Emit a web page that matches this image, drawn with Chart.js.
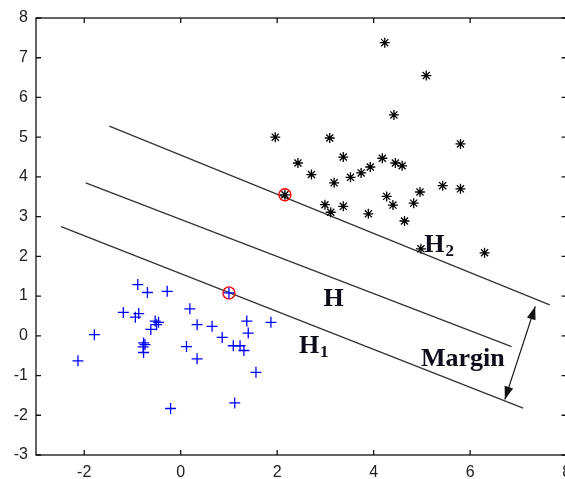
<!DOCTYPE html>
<html lang="en">
<head>
    <meta charset="UTF-8">
    <title>SVM Margin</title>
    <style>
        body {
            margin: 0;
            overflow: hidden;
            background-color: #fff;
        }
        canvas {
            display: block;
        }
    </style>
</head>
<body>
    <!-- wider than the window: the right box edge sits just past the photo edge -->
    <canvas id="svmChart" width="574" height="479"></canvas>

    <script src="https://cdn.jsdelivr.net/npm/chart.js"></script>
    <script>
        // Tick labels
        const xTicks = [-2, 0, 2, 4, 6, 8];
        const yTicks = [-3, -2, -1, 0, 1, 2, 3, 4, 5, 6, 7, 8];

        // Class 1 (blue +)
        const blueX = [-0.89, -0.69, -0.28, 1.00, -1.19, -0.94, -0.87, -0.53, -0.46, -0.62, -0.50, 0.19, 0.34, 0.65, 0.86, 1.37,
                       1.40, 1.87, -1.79, -2.13, -0.77, -0.74, -0.78, -0.77, 0.12, 0.34, 1.09, 1.23, 1.31, 1.56, -0.21, 1.12];
        const blueY = [1.29, 1.09, 1.12, 1.08, 0.59, 0.47, 0.56, 0.37, 0.34, 0.16, 0.28, 0.68, 0.28, 0.24, -0.04, 0.37,
                       0.07, 0.34, 0.03, -0.63, -0.18, -0.22, -0.28, -0.42, -0.27, -0.58, -0.25, -0.25, -0.37, -0.92, -1.83, -1.69];

        // Class 2 (black *)
        const blackX = [4.23, 5.09, 4.42, 1.96, 3.09, 5.80, 2.43, 3.37, 2.71, 3.52, 3.74, 3.93, 4.18, 4.45, 4.59,
                        3.18, 2.16, 2.99, 3.11, 3.37, 3.89, 4.27, 4.40, 4.64, 4.83, 4.96, 5.43, 5.80, 4.98, 6.30];
        const blackY = [7.38, 6.55, 5.56, 5.00, 4.98, 4.83, 4.35, 4.50, 4.06, 3.99, 4.10, 4.25, 4.47, 4.35, 4.28,
                        3.85, 3.55, 3.30, 3.11, 3.26, 3.07, 3.51, 3.29, 2.89, 3.34, 3.62, 3.78, 3.70, 2.19, 2.09];

        // Support vectors (red circles)
        const svX = [1.00, 2.16];
        const svY = [1.08, 3.55];

        // Hyperplanes: [x0, y0, x1, y1]
        const lineH2 = [-1.48, 5.28, 7.65, 0.78];
        const lineH = [-1.97, 3.85, 6.86, -0.27];
        const lineH1 = [-2.48, 2.75, 7.10, -1.82];

        // Margin arrow ends
        const arrowEnds = [7.35, 0.74, 6.72, -1.60];

        // Annotations: text, subscript, x, y (baseline left)
        const labelText = ['H', 'H', 'H', 'Margin'];
        const labelSub = ['2', '', '1', ''];
        const labelX = [5.05, 2.96, 2.45, 4.98];
        const labelY = [2.12, 0.74, -0.43, -0.77];

        function zipXY(xs, ys) {
            return xs.map((x, i) => ({ x: x, y: ys[i] }));
        }

        function segment(l) {
            return [{ x: l[0], y: l[1] }, { x: l[2], y: l[3] }];
        }

        function lineSet(l) {
            return {
                type: 'line',
                data: segment(l),
                borderColor: '#333',
                borderWidth: 1.3,
                pointRadius: 0,
                fill: false,
                order: 5
            };
        }

        // Box with inward ticks, MATLAB style
        const boxPlugin = {
            id: 'boxPlugin',
            afterDatasetsDraw(chart) {
                const c = chart.ctx;
                const a = chart.chartArea;
                const xs = chart.scales.x;
                const ys = chart.scales.y;
                const len = 5;
                c.save();
                c.strokeStyle = '#111';
                c.lineWidth = 1.3;
                c.strokeRect(a.left, a.top, a.right - a.left, a.bottom - a.top);
                c.beginPath();
                xTicks.forEach(v => {
                    const px = xs.getPixelForValue(v);
                    c.moveTo(px, a.bottom); c.lineTo(px, a.bottom - len);
                    c.moveTo(px, a.top); c.lineTo(px, a.top + len);
                });
                yTicks.forEach(v => {
                    const py = ys.getPixelForValue(v);
                    c.moveTo(a.left, py); c.lineTo(a.left + len, py);
                    c.moveTo(a.right, py); c.lineTo(a.right - len, py);
                });
                c.stroke();
                c.restore();
            }
        };

        // Margin arrow and text labels
        const annoPlugin = {
            id: 'annoPlugin',
            afterDatasetsDraw(chart) {
                const c = chart.ctx;
                const xs = chart.scales.x;
                const ys = chart.scales.y;
                c.save();

                const x0 = xs.getPixelForValue(arrowEnds[0]);
                const y0 = ys.getPixelForValue(arrowEnds[1]);
                const x1 = xs.getPixelForValue(arrowEnds[2]);
                const y1 = ys.getPixelForValue(arrowEnds[3]);
                c.strokeStyle = '#111';
                c.fillStyle = '#111';
                c.lineWidth = 1.2;
                c.beginPath();
                c.moveTo(x0, y0);
                c.lineTo(x1, y1);
                c.stroke();

                function head(tx, ty, fx, fy) {
                    const ang = Math.atan2(ty - fy, tx - fx);
                    const hl = 13, hw = 4.5;
                    const bx = tx - hl * Math.cos(ang);
                    const by = ty - hl * Math.sin(ang);
                    c.beginPath();
                    c.moveTo(tx, ty);
                    c.lineTo(bx + hw * Math.sin(ang), by - hw * Math.cos(ang));
                    c.lineTo(bx - hw * Math.sin(ang), by + hw * Math.cos(ang));
                    c.closePath();
                    c.fill();
                }
                head(x0, y0, x1, y1);
                head(x1, y1, x0, y0);

                c.fillStyle = '#0d0d1a';
                c.textAlign = 'left';
                c.textBaseline = 'alphabetic';
                labelText.forEach((t, i) => {
                    const px = xs.getPixelForValue(labelX[i]);
                    const py = ys.getPixelForValue(labelY[i]);
                    c.font = 'bold 26px "Liberation Serif", serif';
                    c.fillText(t, px, py);
                    if (labelSub[i]) {
                        const w = c.measureText(t).width;
                        c.font = 'bold 17px "Liberation Serif", serif';
                        c.fillText(labelSub[i], px + w + 1, py + 4);
                    }
                });
                c.restore();
            }
        };

        const ctx = document.getElementById('svmChart').getContext('2d');
        new Chart(ctx, {
            type: 'scatter',
            data: {
                datasets: [
                    {
                        label: 'Support vectors',
                        data: zipXY(svX, svY),
                        pointStyle: 'circle',
                        pointRadius: 6,
                        borderColor: '#ff0000',
                        backgroundColor: 'rgba(0,0,0,0)',
                        borderWidth: 1.4,
                        order: 2
                    },
                    {
                        label: 'Class 2',
                        data: zipXY(blackX, blackY),
                        pointStyle: 'star',
                        pointRadius: 5,
                        borderColor: '#000',
                        backgroundColor: '#000',
                        borderWidth: 1.3,
                        order: 1
                    },
                    {
                        label: 'Class 1',
                        data: zipXY(blueX, blueY),
                        pointStyle: 'cross',
                        pointRadius: 5.5,
                        borderColor: '#0000ff',
                        backgroundColor: '#0000ff',
                        borderWidth: 1.3,
                        order: 1
                    },
                    lineSet(lineH2),
                    lineSet(lineH),
                    lineSet(lineH1)
                ]
            },
            options: {
                responsive: false,
                animation: false,
                layout: {
                    padding: { left: 0, right: 2, top: 18, bottom: 0 }
                },
                plugins: {
                    legend: { display: false },
                    tooltip: { enabled: false }
                },
                scales: {
                    x: {
                        type: 'linear',
                        min: -3,
                        max: 8,
                        grid: { display: false, drawTicks: false },
                        border: { display: false },
                        ticks: {
                            padding: 8,
                            color: '#222',
                            font: { family: '"Liberation Sans", Arial, sans-serif', size: 16 }
                        },
                        afterBuildTicks: (s) => { s.ticks = xTicks.map(v => ({ value: v })); },
                        afterFit: (s) => { s.height = 24; s.paddingLeft = 0; s.paddingRight = 0; }
                    },
                    y: {
                        type: 'linear',
                        min: -3,
                        max: 8,
                        grid: { display: false, drawTicks: false },
                        border: { display: false },
                        ticks: {
                            padding: 8,
                            color: '#222',
                            font: { family: '"Liberation Sans", Arial, sans-serif', size: 16 }
                        },
                        afterBuildTicks: (s) => { s.ticks = yTicks.map(v => ({ value: v })); },
                        afterFit: (s) => { s.width = 36; s.paddingTop = 0; s.paddingBottom = 0; }
                    }
                }
            },
            plugins: [boxPlugin, annoPlugin]
        });
    </script>
</body>
</html>
